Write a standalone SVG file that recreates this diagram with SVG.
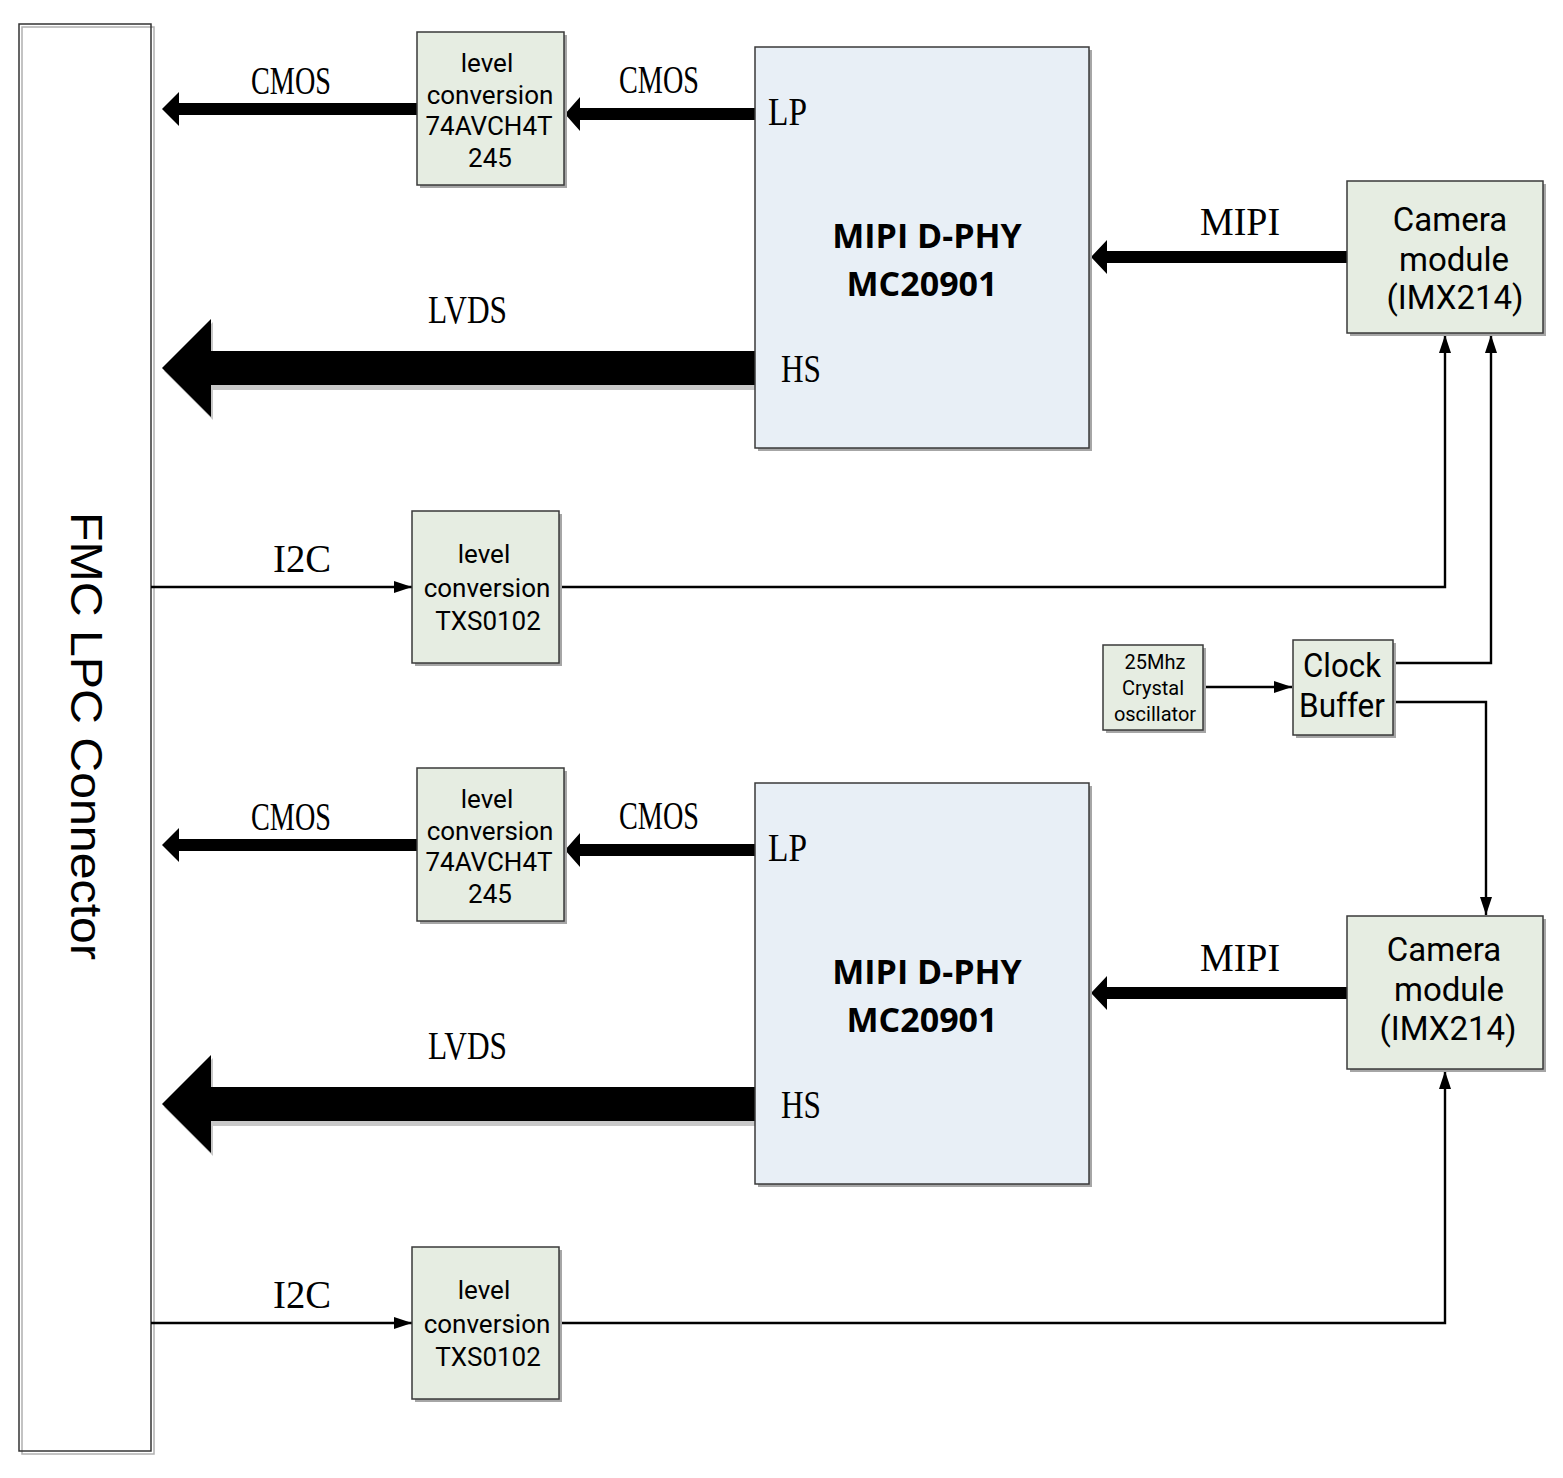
<svg xmlns="http://www.w3.org/2000/svg" width="1563" height="1478" viewBox="0 0 1563 1478">
<style>
.shadow{fill:#a6a6a6;stroke:none}
.gbox{fill:#e6ede2;stroke:#3a3a3a;stroke-width:1.5}
.bbox{fill:#e8eff6;stroke:#3a3a3a;stroke-width:1.5}
.t{font-family:Roboto,"Liberation Sans",sans-serif;fill:#000;text-anchor:middle}
.lbl{font-family:"Liberation Serif","Times New Roman",serif;font-size:40px;fill:#000}
.big{font-family:"Open Sans","Noto Sans",sans-serif;font-weight:bold;font-size:34px;fill:#000;text-anchor:middle}
.wire{fill:none;stroke:#000;stroke-width:2.4}
.blk{fill:#000;stroke:none}
.blksh{fill:#c8c8c8;stroke:none}
</style>
<defs>
<marker id="ah" viewBox="0 0 18 12" refX="18" refY="6" markerWidth="18" markerHeight="12" markerUnits="userSpaceOnUse" orient="auto">
<path d="M0,0 L18,6 L0,12 z" fill="#000"/>
</marker>
</defs>
<rect x="0" y="0" width="1563" height="1478" fill="#fff"/>

<g id="fmc">
<rect x="22" y="27" width="132" height="1427" fill="none" stroke="#b0b0b0" stroke-width="1.5"/>
<rect x="19" y="24" width="132" height="1427" fill="none" stroke="#333" stroke-width="1.5"/>
<text transform="translate(71,512) rotate(90)" x="0" y="0" font-family="'Liberation Sans',Arial,sans-serif" font-size="44" textLength="448" lengthAdjust="spacingAndGlyphs">FMC LPC Connector</text>
</g>

<g id="connectors">
<polygon class="blk" points="162,109 179,92 179,103 417,103 417,115 179,115 179,126"/>
<polygon class="blk" points="565,114 580,97 580,108 755,108 755,120 580,120 580,131"/>
<polygon class="blksh" points="164,371 213,322 213,356 757,356 757,390 213,390 213,420"/>
<polygon class="blk" points="162,368 211,319 211,351 755,351 755,385 211,385 211,417"/>
<polygon class="blk" points="1091,257 1107,240 1107,251 1347,251 1347,263 1107,263 1107,274"/>
<polygon class="blk" points="162,845 179,828 179,839 417,839 417,851 179,851 179,862"/>
<polygon class="blk" points="565,850 580,833 580,844 755,844 755,856 580,856 580,867"/>
<polygon class="blksh" points="164,1107 213,1058 213,1092 757,1092 757,1126 213,1126 213,1156"/>
<polygon class="blk" points="162,1104 211,1055 211,1087 755,1087 755,1121 211,1121 211,1153"/>
<polygon class="blk" points="1091,993 1107,976 1107,987 1347,987 1347,999 1107,999 1107,1010"/>
<line class="wire" x1="151" y1="587" x2="412" y2="587" marker-end="url(#ah)"/>
<polyline class="wire" points="560,587 1445,587 1445,335" marker-end="url(#ah)"/>
<line class="wire" x1="1203" y1="687" x2="1292" y2="687" marker-end="url(#ah)"/>
<polyline class="wire" points="1392,663 1491,663 1491,335" marker-end="url(#ah)"/>
<polyline class="wire" points="1392,702 1486,702 1486,915" marker-end="url(#ah)"/>
<line class="wire" x1="151" y1="1323" x2="412" y2="1323" marker-end="url(#ah)"/>
<polyline class="wire" points="560,1323 1445,1323 1445,1071" marker-end="url(#ah)"/>
<text class="lbl" x="251" y="94" textLength="80" lengthAdjust="spacingAndGlyphs">CMOS</text>
<text class="lbl" x="619" y="93" textLength="80" lengthAdjust="spacingAndGlyphs">CMOS</text>
<text class="lbl" x="428" y="323" textLength="79" lengthAdjust="spacingAndGlyphs">LVDS</text>
<text class="lbl" x="1200" y="235" textLength="80" lengthAdjust="spacingAndGlyphs">MIPI</text>
<text class="lbl" x="273" y="572" textLength="58" lengthAdjust="spacingAndGlyphs">I2C</text>
<text class="lbl" x="251" y="830" textLength="80" lengthAdjust="spacingAndGlyphs">CMOS</text>
<text class="lbl" x="619" y="829" textLength="80" lengthAdjust="spacingAndGlyphs">CMOS</text>
<text class="lbl" x="428" y="1059" textLength="79" lengthAdjust="spacingAndGlyphs">LVDS</text>
<text class="lbl" x="1200" y="971" textLength="80" lengthAdjust="spacingAndGlyphs">MIPI</text>
<text class="lbl" x="273" y="1308" textLength="58" lengthAdjust="spacingAndGlyphs">I2C</text>
</g>

<g id="lvl1">
<rect class="shadow" x="420" y="35" width="147" height="153"/>
<rect class="gbox" x="417" y="32" width="147" height="153"/>
<text class="t" font-size="26" x="487" y="72">level</text>
<text class="t" font-size="26" x="490" y="104">conversion</text>
<text class="t" font-size="26" x="489" y="135">74AVCH4T</text>
<text class="t" font-size="26" x="490" y="167">245</text>
</g>

<g id="dphy1">
<rect class="shadow" x="758" y="50" width="334" height="401"/>
<rect class="bbox" x="755" y="47" width="334" height="401"/>
<text class="lbl" x="768" y="125" textLength="39" lengthAdjust="spacingAndGlyphs">LP</text>
<text class="lbl" x="781" y="382" textLength="40" lengthAdjust="spacingAndGlyphs">HS</text>
<text class="big" x="927" y="248">MIPI D-PHY</text>
<text class="big" x="922" y="296">MC20901</text>
</g>

<g id="cam1">
<rect class="shadow" x="1350" y="184" width="196" height="152"/>
<rect class="gbox" x="1347" y="181" width="196" height="152"/>
<text class="t" font-size="33" x="1450" y="231">Camera</text>
<text class="t" font-size="33" x="1454" y="271">module</text>
<text class="t" font-size="33" x="1455" y="309">(IMX214)</text>
</g>

<g id="txs1">
<rect class="shadow" x="415" y="514" width="147" height="152"/>
<rect class="gbox" x="412" y="511" width="147" height="152"/>
<text class="t" font-size="26" x="484" y="563">level</text>
<text class="t" font-size="26" x="487" y="597">conversion</text>
<text class="t" font-size="26" x="488" y="630">TXS0102</text>
</g>

<g id="osc">
<rect class="shadow" x="1106" y="648" width="100" height="85"/>
<rect class="gbox" x="1103" y="645" width="100" height="85"/>
<text class="t" font-size="20" x="1155" y="669">25Mhz</text>
<text class="t" font-size="20" x="1153" y="695">Crystal</text>
<text class="t" font-size="20" x="1155" y="721">oscillator</text>
</g>

<g id="clkbuf">
<rect class="shadow" x="1296" y="643" width="100" height="95"/>
<rect class="gbox" x="1293" y="640" width="100" height="95"/>
<text class="t" font-size="33" x="1342" y="677" textLength="78" lengthAdjust="spacingAndGlyphs">Clock</text>
<text class="t" font-size="33" x="1342" y="717" textLength="86" lengthAdjust="spacingAndGlyphs">Buffer</text>
</g>

<g id="lvl2">
<rect class="shadow" x="420" y="771" width="147" height="153"/>
<rect class="gbox" x="417" y="768" width="147" height="153"/>
<text class="t" font-size="26" x="487" y="808">level</text>
<text class="t" font-size="26" x="490" y="840">conversion</text>
<text class="t" font-size="26" x="489" y="871">74AVCH4T</text>
<text class="t" font-size="26" x="490" y="903">245</text>
</g>

<g id="dphy2">
<rect class="shadow" x="758" y="786" width="334" height="401"/>
<rect class="bbox" x="755" y="783" width="334" height="401"/>
<text class="lbl" x="768" y="861" textLength="39" lengthAdjust="spacingAndGlyphs">LP</text>
<text class="lbl" x="781" y="1118" textLength="40" lengthAdjust="spacingAndGlyphs">HS</text>
<text class="big" x="927" y="984">MIPI D-PHY</text>
<text class="big" x="922" y="1032">MC20901</text>
</g>

<g id="cam2">
<rect class="shadow" x="1350" y="919" width="196" height="153"/>
<rect class="gbox" x="1347" y="916" width="196" height="153"/>
<text class="t" font-size="33" x="1444" y="961">Camera</text>
<text class="t" font-size="33" x="1449" y="1001">module</text>
<text class="t" font-size="33" x="1448" y="1040">(IMX214)</text>
</g>

<g id="txs2">
<rect class="shadow" x="415" y="1250" width="147" height="152"/>
<rect class="gbox" x="412" y="1247" width="147" height="152"/>
<text class="t" font-size="26" x="484" y="1299">level</text>
<text class="t" font-size="26" x="487" y="1333">conversion</text>
<text class="t" font-size="26" x="488" y="1366">TXS0102</text>
</g>
</svg>
